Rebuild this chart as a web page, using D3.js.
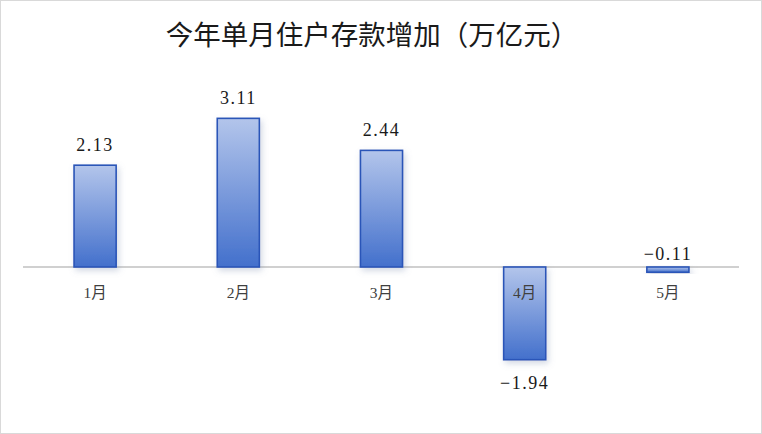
<!DOCTYPE html>
<html lang="zh">
<head>
  <meta charset="UTF-8" />
  <title>今年单月住户存款增加</title>
  <script src="https://d3js.org/d3.v7.min.js"></script>
  <style>
    body {
      margin: 0;
      background: #fff;
      overflow: hidden;
    }
    svg {
      display: block;
    }
    .title {
      font-family: "Liberation Serif", "Noto Sans CJK SC", serif;
      font-size: 27.5px;
      fill: #1a1a1a;
    }
    .value {
      font-family: "Liberation Serif", serif;
      font-size: 18px;
      letter-spacing: 1.5px;
      fill: #1a1a1a;
    }
    .month {
      font-family: "Liberation Serif", "Noto Sans CJK SC", serif;
      font-size: 15.5px;
      fill: #404040;
    }
  </style>
</head>
<body>
  <svg width="762" height="434"></svg>
  <script>
    const months = ["1月", "2月", "3月", "4月", "5月"];
    const values = [2.13, 3.11, 2.44, -1.94, -0.11];
    const labels = ["2.13", "3.11", "2.44", "-1.94", "-0.11"];

    const svg = d3.select("svg");
    const W = 762, H = 434;

    svg.append("rect")
      .attr("x", 0.5).attr("y", 0.5)
      .attr("width", W - 1).attr("height", H - 1)
      .attr("fill", "#fff").attr("stroke", "#d9d9d9");

    const defs = svg.append("defs");
    const grad = defs.append("linearGradient")
      .attr("id", "barGrad")
      .attr("x1", 0).attr("y1", 0).attr("x2", 0).attr("y2", 1);
    grad.append("stop").attr("offset", "0%").attr("stop-color", "#b3c5eb");
    grad.append("stop").attr("offset", "100%").attr("stop-color", "#4370cc");

    const shadow = defs.append("filter").attr("id", "shadow")
      .attr("x", "-30%").attr("y", "-30%").attr("width", "160%").attr("height", "160%");
    shadow.append("feDropShadow")
      .attr("dx", 2).attr("dy", 3).attr("stdDeviation", 3)
      .attr("flood-color", "#8090b0").attr("flood-opacity", 0.35);

    svg.append("text")
      .attr("class", "title")
      .attr("x", 372).attr("y", 45)
      .attr("text-anchor", "middle")
      .text("今年单月住户存款增加（万亿元）");

    const x = d3.scaleBand()
      .domain(months)
      .range([23.5, 739.5])
      .paddingInner(0.706)
      .paddingOuter(0.353);

    const y = d3.scaleLinear()
      .domain([-3, 4])
      .range([410.4, 75.8]);

    // zero line
    svg.append("line")
      .attr("x1", 23).attr("x2", 739)
      .attr("y1", y(0)).attr("y2", y(0))
      .attr("stroke", "#d0d0d0").attr("stroke-width", 2);

    svg.append("g")
      .selectAll("rect")
      .data(values)
      .join("rect")
      .attr("x", (d, i) => x(months[i]))
      .attr("width", x.bandwidth())
      .attr("y", d => y(Math.max(0, d)))
      .attr("height", d => Math.abs(y(d) - y(0)))
      .attr("fill", "url(#barGrad)")
      .attr("stroke", "#2a55b8")
      .attr("stroke-width", 1.6)
      .attr("filter", "url(#shadow)");

    svg.append("g")
      .selectAll("text")
      .data(values)
      .join("text")
      .attr("class", "value")
      .attr("x", (d, i) => x(months[i]) + x.bandwidth() / 2)
      .attr("y", d => d >= 0 ? y(d) - 14 : (d < -1 ? y(d) + 29 : y(0) - 7))
      .attr("text-anchor", "middle")
      .text((d, i) => labels[i].replace("-", "−"));

    svg.append("g")
      .selectAll("text")
      .data(months)
      .join("text")
      .attr("class", "month")
      .attr("x", d => x(d) + x.bandwidth() / 2)
      .attr("y", y(0) + 31)
      .attr("text-anchor", "middle")
      .text(d => d);
  </script>
</body>
</html>
